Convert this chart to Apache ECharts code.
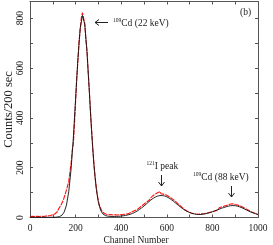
<!DOCTYPE html>
<html><head><meta charset="utf-8">
<script src="https://cdn.jsdelivr.net/npm/echarts@6/dist/echarts.min.js"></script>
<style>html,body{margin:0;padding:0;background:#fff}#c{width:273px;height:245px}</style>
</head><body><div id="c"></div>
<script>
// Measured spectrum (red), sampled every 5 channels
const redChannels = [
0,5,10,15,20,25,30,35,40,45,50,55,60,65,70,75,80,85,90,95,
100,105,110,115,120,125,130,135,140,145,150,155,160,165,170,175,180,185,190,195,
200,205,210,215,220,225,230,235,240,245,250,255,260,265,270,275,280,285,290,295,
300,305,310,315,320,325,330,335,340,345,350,355,360,365,370,375,380,385,390,395,
400,405,410,415,420,425,430,435,440,445,450,455,460,465,470,475,480,485,490,495,
500,505,510,515,520,525,530,535,540,545,550,555,560,565,570,575,580,585,590,595,
600,605,610,615,620,625,630,635,640,645,650,655,660,665,670,675,680,685,690,695,
700,705,710,715,720,725,730,735,740,745,750,755,760,765,770,775,780,785,790,795,
800,805,810,815,820,825,830,835,840,845,850,855,860,865,870,875,880,885,890,895,
900,905,910,915,920,925,930,935,940,945,950,955,960,965,970,975,980,985,990,995,
1000];
const redCounts = [
4,1,5,2,4,1,5,2,4,2,5,1,4,2,6,3,7,4,8,5,
11,15,15,23,24,34,36,48,52,67,74,95,100,127,145,182,213,268,295,375,
468,560,628,705,752,800,822,800,780,716,668,585,512,425,355,280,222,165,128,90,
66,47,37,27,23,17,18,13,16,11,14,12,15,10,13,11,14,10,15,12,
14,11,15,13,17,14,19,17,23,21,27,26,31,30,36,35,42,43,48,50,
56,57,64,64,72,71,80,79,88,84,94,90,99,96,104,95,103,94,100,91,
95,86,90,81,84,74,76,67,68,59,59,50,50,42,42,34,35,28,30,23,
25,19,22,16,20,14,19,13,18,14,19,15,20,16,21,18,23,20,26,22,
29,24,32,27,35,30,39,33,42,37,45,39,48,43,51,45,54,47,55,47,
52,45,50,43,47,40,43,36,38,31,33,26,28,21,23,16,19,13,15,10,
11];
// Fitted curve (black), sampled every 10 channels
const fitChannels = [
0,10,20,30,40,50,60,70,80,90,100,110,120,130,140,150,160,170,180,190,
200,210,220,230,240,250,260,270,280,290,300,310,320,330,340,350,360,370,380,390,
400,410,420,430,440,450,460,470,480,490,500,510,520,530,540,550,560,570,580,590,
600,610,620,630,640,650,660,670,680,690,700,710,720,730,740,750,760,770,780,790,
800,810,820,830,840,850,860,870,880,890,900,910,920,930,940,950,960,970,980,990,1000];
const fitCounts = [
1,1,1,1,1,1,1,1,1,1,
1,1,2,4,9,22,50,104,192,319,
476,635,758,811,776,665,510,350,215,120,
60,28,14,8,5.5,4.5,4.2,4,4.3,4.8,
6,7,8.5,10.5,13,16.5,21,26,32,39,
46,54,62,70,77,82,86,88,88,86.5,
83,78,71.5,64.5,57,49.5,42,35,29,24,
20,16.5,14.5,13,12,12,13,15,17,20,
23,26.5,30,33.5,37,40,43,45.5,47.3,48,
47.3,45.5,42.5,38.8,34.5,30,25.5,21.5,18,15,
12.5];
const xTickLabels = ['0','200','400','600','800','1000'];
const yTickLabels = ['0','200','400','600','800'];

const FONT = '"Liberation Serif","Times New Roman",serif';
const axisCol = '#555';
const txtCol = '#222';
const chart = echarts.init(document.getElementById('c'), null, {renderer:'canvas'});
const pairs = (xs, ys) => xs.map((x,i)=>[x, ys[i]]);
const lbl = (list) => (v) => list.indexOf(String(v)) >= 0 ? String(v) : '';
const baseX = {type:'value', min:0, max:1000, interval:100, splitLine:{show:false},
  axisLine:{show:true, onZero:false, lineStyle:{color:axisCol, width:1}},
  axisTick:{show:true, inside:true, length:3, lineStyle:{color:axisCol}}};
const baseY = {type:'value', min:0, max:867, interval:100, splitLine:{show:false},
  axisLine:{show:true, onZero:false, lineStyle:{color:axisCol, width:1}},
  axisTick:{show:true, inside:true, length:3, lineStyle:{color:axisCol}}};

chart.setOption({
  animation:false,
  backgroundColor:'#fff',
  grid:{left:30, right:15, top:1.5, bottom:27.5, containLabel:false, outerBoundsMode:'none'},
  xAxis:[
    Object.assign({}, baseX, {position:'bottom',
      axisLabel:{formatter:lbl(xTickLabels), fontFamily:FONT, fontSize:9.5, color:txtCol, margin:6, showMaxLabel:true},
      name:'Channel Number', nameLocation:'middle', nameGap:18, nameMoveOverlap:false,
      nameTextStyle:{fontFamily:FONT, fontSize:9.5, color:txtCol, padding:[0,16,0,0]}}),
    Object.assign({}, baseX, {position:'top', axisLabel:{show:false}})
  ],
  yAxis:[
    Object.assign({}, baseY, {position:'left',
      axisLabel:{formatter:lbl(yTickLabels), fontFamily:FONT, fontSize:9.5, color:txtCol, rotate:90, margin:5, showMaxLabel:false},
      name:'Counts/200 sec', nameLocation:'middle', nameGap:15, nameRotate:90, nameMoveOverlap:false,
      nameTextStyle:{fontFamily:FONT, fontSize:12.5, color:txtCol}}),
    Object.assign({}, baseY, {position:'right', axisLabel:{show:false}})
  ],
  series:[
    {type:'line', name:'measured', xAxisIndex:0, yAxisIndex:0, data:pairs(redChannels, redCounts),
     showSymbol:false, symbol:'none', lineStyle:{color:'#ff1010', width:1.1, type:[5,1]}, z:2},
    {type:'line', name:'fit', xAxisIndex:0, yAxisIndex:0, data:pairs(fitChannels, fitCounts),
     showSymbol:false, symbol:'none', lineStyle:{color:'#111', width:0.9}, z:3}
  ],
  graphic:[
    {type:'polyline', shape:{points:[[108,22.5],[95,22.5]]}, style:{stroke:'#222', lineWidth:1, fill:null}},
    {type:'polyline', shape:{points:[[99,19.5],[95,22.5],[99,25.5]]}, style:{stroke:'#222', lineWidth:1, fill:null}},
    {type:'text', x:113, y:23, style:{text:'{s|109}Cd (22 keV)', fontFamily:FONT, fontSize:9.5, fill:txtCol,
      textVerticalAlign:'middle', verticalAlign:'middle', rich:{s:{fontSize:5.5, fontFamily:FONT, verticalAlign:'top', fill:txtCol}}}},
    {type:'text', x:240, y:12.5, style:{text:'(b)', fontFamily:FONT, fontSize:9.5, fill:txtCol, textVerticalAlign:'middle', verticalAlign:'middle'}},
    {type:'text', x:146.5, y:166, style:{text:'{s|121}I peak', fontFamily:FONT, fontSize:9.5, fill:txtCol,
      textVerticalAlign:'middle', verticalAlign:'middle', rich:{s:{fontSize:5.5, fontFamily:FONT, verticalAlign:'top', fill:txtCol}}}},
    {type:'polyline', shape:{points:[[161.5,175],[161.5,186]]}, style:{stroke:'#222', lineWidth:1, fill:null}},
    {type:'polyline', shape:{points:[[158.5,182],[161.5,186],[164.5,182]]}, style:{stroke:'#222', lineWidth:1, fill:null}},
    {type:'text', x:193, y:177, style:{text:'{s|109}Cd (88 keV)', fontFamily:FONT, fontSize:9.5, fill:txtCol,
      textVerticalAlign:'middle', verticalAlign:'middle', rich:{s:{fontSize:5.5, fontFamily:FONT, verticalAlign:'top', fill:txtCol}}}},
    {type:'polyline', shape:{points:[[231.5,186],[231.5,197]]}, style:{stroke:'#222', lineWidth:1, fill:null}},
    {type:'polyline', shape:{points:[[228.5,193],[231.5,197],[234.5,193]]}, style:{stroke:'#222', lineWidth:1, fill:null}}
  ]
});
</script></body></html>
